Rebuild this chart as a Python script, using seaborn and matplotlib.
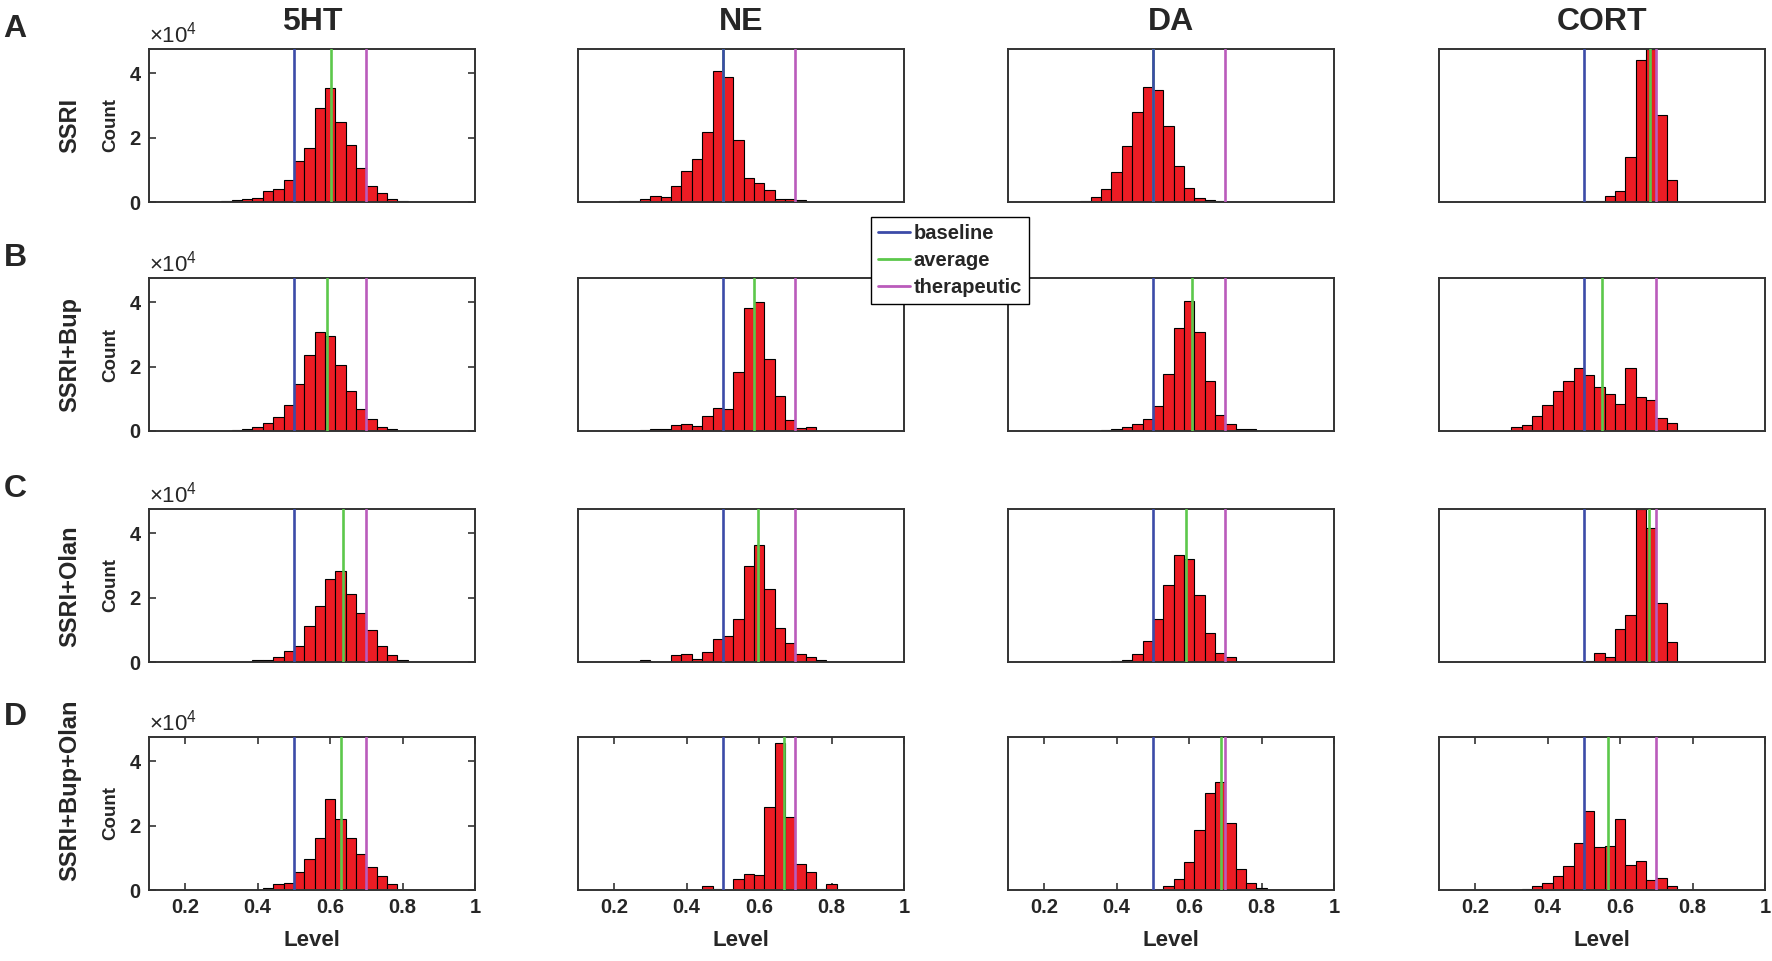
import numpy as np
import pandas as pd
import matplotlib
matplotlib.use('Agg')
import matplotlib.pyplot as plt
import seaborn as sns
from matplotlib.lines import Line2D

# ---------------- data ----------------
columns = ['5HT', 'NE', 'DA', 'CORT']
rows = ['SSRI', 'SSRI+Bup', 'SSRI+Olan', 'SSRI+Bup+Olan']
row_letters = ['A', 'B', 'C', 'D']

bin_width = 0.2 / 7
n_bins = 31
x_min, x_max = 0.1, 1.0

# counts per bin (units of 1e4), bins start at 0.1 with width 0.2/7
ssri_5ht = [0, 0, 0, 0, 0, 0, 0.01, 0.02, 0.05, 0.08, 0.13, 0.33, 0.39, 0.67, 1.28, 1.69, 2.92, 3.54, 2.48, 1.76, 1.05, 0.50, 0.27, 0.09, 0.02, 0, 0, 0, 0, 0, 0]
ssri_ne = [0, 0, 0, 0, 0.03, 0.02, 0.09, 0.20, 0.16, 0.49, 0.97, 1.33, 2.18, 4.07, 3.88, 1.92, 0.74, 0.60, 0.36, 0.09, 0.09, 0.05, 0, 0, 0, 0, 0, 0, 0, 0, 0]
ssri_da = [0, 0, 0, 0, 0, 0, 0, 0.03, 0.17, 0.39, 0.92, 1.74, 2.80, 3.57, 3.49, 2.36, 1.13, 0.44, 0.13, 0.05, 0.02, 0, 0, 0, 0, 0, 0, 0, 0, 0, 0]
ssri_cort = [0, 0, 0, 0, 0, 0, 0, 0, 0, 0, 0, 0, 0, 0, 0.03, 0.04, 0.20, 0.33, 1.40, 4.41, 4.75, 2.70, 0.67, 0, 0, 0, 0, 0, 0, 0, 0]

bup_5ht = [0, 0, 0, 0, 0, 0, 0, 0, 0.03, 0.06, 0.13, 0.26, 0.43, 0.82, 1.46, 2.36, 3.08, 2.95, 2.05, 1.25, 0.67, 0.38, 0.12, 0.05, 0, 0, 0, 0, 0, 0, 0]
bup_ne = [0, 0, 0, 0, 0, 0, 0.04, 0.05, 0.05, 0.20, 0.23, 0.15, 0.48, 0.72, 0.67, 1.82, 3.83, 4.00, 2.23, 1.10, 0.33, 0.08, 0.12, 0, 0, 0, 0, 0, 0, 0, 0]
bup_da = [0, 0, 0, 0, 0, 0, 0, 0, 0, 0.03, 0.07, 0.12, 0.22, 0.38, 0.79, 1.78, 3.20, 4.03, 3.08, 1.56, 0.49, 0.23, 0.06, 0.06, 0, 0, 0, 0, 0, 0, 0]
bup_cort = [0, 0, 0, 0, 0, 0, 0, 0.12, 0.20, 0.46, 0.82, 1.25, 1.56, 1.97, 1.74, 1.38, 1.15, 0.85, 1.97, 1.06, 0.97, 0.41, 0.25, 0, 0, 0, 0, 0, 0, 0, 0]

olan_5ht = [0, 0, 0, 0, 0, 0, 0, 0, 0, 0, 0.05, 0.06, 0.17, 0.34, 0.49, 1.11, 1.74, 2.59, 2.82, 2.10, 1.51, 1.00, 0.50, 0.23, 0.05, 0, 0, 0, 0, 0, 0]
olan_ne = [0, 0, 0, 0, 0, 0, 0.05, 0, 0, 0.23, 0.24, 0.10, 0.31, 0.70, 0.82, 1.33, 2.98, 3.62, 2.28, 1.05, 0.60, 0.26, 0.14, 0.06, 0, 0, 0, 0, 0, 0, 0]
olan_da = [0, 0, 0, 0, 0, 0, 0, 0, 0, 0, 0.02, 0.06, 0.26, 0.64, 1.33, 2.38, 3.31, 3.21, 2.07, 0.90, 0.29, 0.14, 0, 0, 0, 0, 0, 0, 0, 0, 0]
olan_cort = [0, 0, 0, 0, 0, 0, 0, 0, 0, 0, 0, 0, 0, 0, 0.03, 0.27, 0.16, 1.03, 1.47, 4.75, 4.16, 1.83, 0.63, 0, 0, 0, 0, 0, 0, 0, 0]

bupolan_5ht = [0, 0, 0, 0, 0, 0, 0, 0, 0, 0, 0, 0.05, 0.20, 0.23, 0.56, 0.96, 1.62, 2.82, 2.21, 1.60, 1.13, 0.71, 0.44, 0.20, 0, 0, 0, 0, 0, 0, 0]
bupolan_ne = [0, 0, 0, 0, 0, 0, 0, 0, 0, 0, 0, 0, 0.13, 0.03, 0, 0.33, 0.49, 0.46, 2.57, 4.55, 2.28, 0.82, 0.56, 0.03, 0.20, 0, 0, 0, 0, 0, 0]
bupolan_da = [0, 0, 0, 0, 0, 0, 0, 0, 0, 0, 0, 0, 0, 0, 0, 0.13, 0.34, 0.86, 1.86, 3.00, 3.35, 2.08, 0.64, 0.23, 0.05, 0, 0, 0, 0, 0, 0]
bupolan_cort = [0, 0, 0, 0, 0, 0, 0, 0, 0.02, 0.13, 0.23, 0.44, 0.74, 1.45, 2.45, 1.35, 1.38, 2.21, 0.77, 0.89, 0.32, 0.36, 0.13, 0, 0, 0, 0, 0, 0, 0, 0]

avg_ssri = [0.603, 0.500, 0.500, 0.683]
avg_bup = [0.591, 0.586, 0.607, 0.549]
avg_olan = [0.636, 0.596, 0.591, 0.679]
avg_bupolan = [0.630, 0.670, 0.687, 0.567]

baseline = 0.5
therapeutic = 0.7

xtick_values = [0.2, 0.4, 0.6, 0.8, 1.0]
xtick_labels = ['0.2', '0.4', '0.6', '0.8', '1']
ytick_values = [0, 2e4, 4e4]
ytick_labels = ['0', '2', '4']
y_top = 4.75e4

legend_labels = ['baseline', 'average', 'therapeutic']

grid_counts = [
    [ssri_5ht, ssri_ne, ssri_da, ssri_cort],
    [bup_5ht, bup_ne, bup_da, bup_cort],
    [olan_5ht, olan_ne, olan_da, olan_cort],
    [bupolan_5ht, bupolan_ne, bupolan_da, bupolan_cort],
]
grid_avg = [avg_ssri, avg_bup, avg_olan, avg_bupolan]

# ---------------- style ----------------
sns.set_theme(style='white')
plt.rcParams['font.family'] = ['Liberation Sans', 'DejaVu Sans']
plt.rcParams['mathtext.fontset'] = 'custom'
plt.rcParams['mathtext.rm'] = 'Liberation Sans'

RED = '#EC1C24'
BLUE = '#3C4BA8'
GREEN = '#5CC84B'
MAGENTA = '#BA5BBB'
SPINE = '#333333'

W, H = 1772, 961
fig = plt.figure(figsize=(W / 100, H / 100), dpi=100)

col_left_px = [149, 578, 1008, 1439]
ax_w_px = 326
row_top_px = [49, 278, 509, 737]
ax_h_px = 153
row_label_center_px = [125, 355, 586, 790]

bin_lo = x_min
bin_hi = x_min + n_bins * bin_width
bin_centers = bin_lo + bin_width * (np.arange(n_bins) + 0.5)

for r in range(4):
    for c in range(4):
        left = col_left_px[c] / W
        bottom = 1 - (row_top_px[r] + ax_h_px) / H
        ax = fig.add_axes([left, bottom, ax_w_px / W, ax_h_px / H])
        df = pd.DataFrame({'level': bin_centers,
                           'count': np.array(grid_counts[r][c]) * 1e4})
        sns.histplot(data=df, x='level', weights='count',
                     binwidth=bin_width, binrange=(bin_lo, bin_hi),
                     ax=ax, color=RED, edgecolor='black', linewidth=0.8,
                     alpha=1.0)
        ax.axvline(grid_avg[r][c], color=GREEN, lw=1.9, zorder=3)
        ax.axvline(baseline, color=BLUE, lw=1.9, zorder=4)
        ax.axvline(therapeutic, color=MAGENTA, lw=1.9, zorder=4)
        ax.set_xlim(x_min, x_max)
        ax.set_ylim(0, y_top)
        for s in ax.spines.values():
            s.set_color(SPINE)
            s.set_linewidth(1.4)
            s.set_visible(True)
        ax.set_xlabel('')
        ax.set_ylabel('')

        if r == 3:
            ax.set_xticks(xtick_values)
            ax.set_xticklabels(xtick_labels, fontsize=14.5, fontweight='bold')
            ax.tick_params(axis='x', direction='in', length=5, width=1.2,
                           top=True, bottom=True, pad=6, color=SPINE)
            ax.set_xlabel('Level', fontsize=16, fontweight='bold', labelpad=9)
        else:
            ax.set_xticks([])

        if c == 0:
            ax.set_yticks(ytick_values)
            ax.set_yticklabels(ytick_labels, fontsize=14.5, fontweight='bold')
            ax.tick_params(axis='y', direction='in', length=5, width=1.2,
                           left=True, right=True, pad=6, color=SPINE)
            ax.set_ylabel('Count', fontsize=13.5, fontweight='bold')
            ax.yaxis.set_label_coords(-0.09, 0.5)
            ax.text(0.0, 1.01, r'$\times10^{4}$', transform=ax.transAxes,
                    ha='left', va='bottom', fontsize=16)
        else:
            ax.set_yticks([])

        if r == 0:
            fig.text(left + ax_w_px / W / 2, 1 - 22 / H, columns[c],
                     ha='center', va='center', fontsize=23, fontweight='bold')
    fig.text(70 / W, 1 - row_label_center_px[r] / H, rows[r], rotation=90,
             ha='center', va='center', fontsize=17, fontweight='bold')
    fig.text(15 / W, 1 - (row_top_px[r] - 20) / H, row_letters[r],
             ha='center', va='center', fontsize=23, fontweight='bold')

handles = [Line2D([0], [0], color=BLUE, lw=2),
           Line2D([0], [0], color=GREEN, lw=2),
           Line2D([0], [0], color=MAGENTA, lw=2)]
leg = fig.legend(handles, legend_labels, loc='upper left',
                 bbox_to_anchor=(871 / W, 1 - 217 / H), frameon=True,
                 fancybox=False, edgecolor='black', framealpha=1,
                 handlelength=1.6, handletextpad=0.15, borderaxespad=0,
                 borderpad=0.35, labelspacing=0.4,
                 prop=dict(weight='bold', size=14.5))
leg.get_frame().set_linewidth(1.0)

fig.savefig('out.png', dpi=100)
